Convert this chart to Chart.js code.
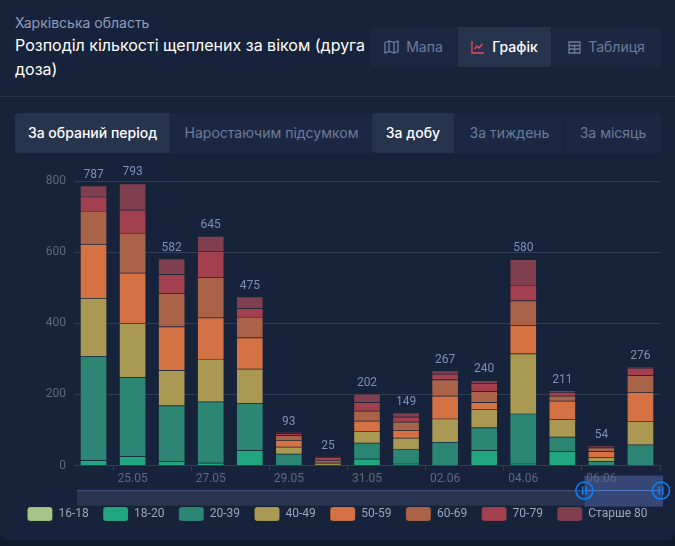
<!DOCTYPE html>
<html lang="uk">
<head>
<meta charset="utf-8">
<title>Розподіл кількості щеплених за віком</title>
<script src="https://cdn.jsdelivr.net/npm/chart.js@4"></script>
<style>
    html, body { margin: 0; padding: 0; background: #101a2d; }
    body { width: 675px; height: 546px; overflow: hidden; position: relative; font-family: Inter, sans-serif; }
    #card { position: absolute; left: 0; top: 0; width: 675px; height: 540px; background: #17233a; border-radius: 0 0 8px 8px; }
    #region { position: absolute; left: 15px; top: 14px; font-size: 14px; line-height: 18px; color: #8f9db8; }
    #title { position: absolute; left: 15px; top: 33px; width: 354px; font-size: 16px; line-height: 24px; font-weight: 400; color: #fff; }
    #divider { position: absolute; left: 0; top: 96px; width: 675px; height: 1px; background: #25314a; }
    .group { position: absolute; display: flex; height: 40px; }
    .btn { box-sizing: border-box; height: 40px; line-height: 40px; text-align: center; font-size: 14px; color: #6c7c9b; background: #1c2841; border-right: 1px solid #17233a; white-space: nowrap; }
    .btn:first-child { border-radius: 4px 0 0 4px; }
    .btn:last-child { border-radius: 0 4px 4px 0; border-right: 0; }
    .btn.on { background: #27344e; color: #fff; font-weight: 500; }
    .btn svg { vertical-align: -2px; margin-right: 7px; }
    #chartBox { position: absolute; left: 0; top: 160px; width: 675px; height: 371px; }
</style>
</head>
<body>
<div id="card"></div>
<div id="region">Харківська область</div>
<div id="title">Розподіл кількості щеплених за віком (друга доза)</div>
<div class="group" style="left:370px;top:27px">
    <div class="btn" style="width:88px"><svg width="15" height="14" viewBox="0 0 15 14" fill="none" stroke="#6c7c9b" stroke-width="1.3"><path d="M1 2.5l4-1.5 5 1.5 4-1.5v10.500l-4 1.500-5-1.500-4 1.500zM5 1v10.500M10 2.500v10.500"/></svg>Мапа</div>
    <div class="btn on" style="width:94px"><svg width="14" height="14" viewBox="0 0 14 14" fill="none" stroke="#f0485a" stroke-width="1.300"><path d="M1 1v12h12M3.500 9l2.500-3 2 2 3.500-4"/></svg>Графік</div>
    <div class="btn" style="width:109px"><svg width="13" height="13" viewBox="0 0 13 13" fill="none" stroke="#6c7c9b" stroke-width="1.300"><path d="M1 1h11v11h-11zM1 4.500h11M1 8h11M6.500 4.500v7.500"/></svg>Таблиця</div>
</div>
<div id="divider"></div>
<div class="group" style="left:15px;top:113px">
    <div class="btn on" style="width:156px">За обраний період</div>
    <div class="btn" style="width:201px">Наростаючим підсумком</div>
</div>
<div class="group" style="left:372px;top:113px">
    <div class="btn on" style="width:83px">За добу</div>
    <div class="btn" style="width:110px">За тиждень</div>
    <div class="btn" style="width:96px">За місяць</div>
</div>
<div id="chartBox"><canvas id="myChart"></canvas></div>

<script>
// Data
const dates = ["24.05", "25.05", "26.05", "27.05", "28.05", "29.05", "30.05", "31.05", "01.06", "02.06", "03.06", "04.06", "05.06", "06.06", "07.06"];
const totals = [787, 793, 582, 645, 475, 93, 25, 202, 149, 267, 240, 580, 211, 54, 276];
const age16to18 = [0, 0, 0, 0, 0, 0, 0, 0, 0, 0, 0, 0, 0, 0, 0];
const age18to20 = [15, 26, 12, 8, 43, 2, 0, 19, 5, 1, 43, 5, 40, 0, 1];
const age20to39 = [293, 222, 157, 172, 133, 31, 2, 45, 42, 65, 64, 141, 41, 12, 58];
const age40to49 = [163, 152, 99, 120, 96, 20, 4, 32, 31, 66, 51, 169, 50, 12, 66];
const age50to59 = [152, 142, 123, 116, 88, 19, 4, 30, 22, 64, 20, 80, 51, 16, 82];
const age60to69 = [93, 112, 94, 114, 58, 13, 5, 28, 23, 46, 31, 69, 14, 11, 47];
const age70to79 = [40, 65, 53, 73, 24, 6, 8, 24, 14, 16, 23, 44, 11, 2, 21];
const ageOver80 = [31, 74, 44, 42, 33, 2, 2, 24, 12, 9, 8, 72, 4, 1, 1];

const yTicks = [0, 200, 400, 600, 800];

const ageLabels = ["16-18", "18-20", "20-39", "40-49", "50-59", "60-69", "70-79", "Старше 80"];
const ageValues = [age16to18, age18to20, age20to39, age40to49, age50to59, age60to69, age70to79, ageOver80];
const ageColors = ["#a3c585", "#22a67f", "#2d8673", "#a99953", "#d47244", "#a96348", "#a2404f", "#803f4f"];

const gridColor = "#323e58";

// Totals above every stack
const totalsPlugin = {
    id: "totals",
    afterDatasetsDraw(chart) {
        const ctx = chart.ctx;
        const yScale = chart.scales.y;
        const xScale = chart.scales.x;
        ctx.save();
        ctx.font = "12px Roboto";
        ctx.fillStyle = "#7d90b5";
        ctx.textAlign = "center";
        ctx.textBaseline = "bottom";
        totals.forEach((total, i) => {
            ctx.fillText(total, xScale.getPixelForValue(i), yScale.getPixelForValue(total) - 5);
        });
        ctx.restore();
    }
};

// Range slider under the axis: the last two days are selected
const sliderPlugin = {
    id: "slider",
    beforeDraw(chart) {
        const ctx = chart.ctx;
        const area = chart.chartArea;
        const xScale = chart.scales.x;
        const left = area.left + 3;
        const right = area.right + 3;
        const from = xScale.getPixelForValue(13) - 17;
        const lineY = area.bottom + 25;
        ctx.save();
        ctx.fillStyle = "#2a3550";
        ctx.fillRect(left, lineY, from - left, 15);
        ctx.fillStyle = "#364775";
        ctx.fillRect(from, lineY - 15, right - from, 31);
        ctx.fillStyle = "#46557a";
        ctx.fillRect(left, lineY - 0.5, from - left, 1);
        ctx.fillStyle = "#5a78c8";
        ctx.fillRect(from, lineY - 0.5, right - 2 - from, 1);
        ctx.restore();
    },
    afterDraw(chart) {
        const ctx = chart.ctx;
        const area = chart.chartArea;
        const xScale = chart.scales.x;
        const lineY = area.bottom + 25;
        [xScale.getPixelForValue(13) - 17, area.right + 1].forEach(x => {
            ctx.save();
            ctx.strokeStyle = "#0a84ff";
            ctx.lineWidth = 1.5;
            ctx.beginPath();
            ctx.arc(x, lineY, 8.500, 0, Math.PI * 2);
            ctx.stroke();
            ctx.fillStyle = "#0a84ff";
            ctx.fillRect(x - 2.500, lineY - 4, 1.500, 8);
            ctx.fillRect(x + 1, lineY - 4, 1.500, 8);
            ctx.restore();
        });
    }
};

const ctx = document.getElementById("myChart");
const datasets = ageLabels.map((label, i) => ({
    label: label,
    data: ageValues[i],
    backgroundColor: ageColors[i],
    borderColor: "rgba(23, 35, 58, 0.1)",
    borderWidth: 1,
    barThickness: 27,
}));

const myChart = new Chart(ctx, {
    type: "bar",
    data: { labels: dates, datasets },
    options: {
        responsive: true,
        maintainAspectRatio: false,
        animation: false,
        layout: { padding: { top: 21, right: 0, bottom: 0, left: 0 } },
        scales: {
            x: {
                stacked: true,
                border: { color: gridColor },
                grid: {
                    drawOnChartArea: false,
                    tickLength: 5,
                    tickColor: (c) => (c.index === undefined || c.index % 2 === 1) ? gridColor : "transparent",
                },
                ticks: {
                    autoSkip: false,
                    maxRotation: 0,
                    padding: 1,
                    color: "#5c6a85",
                    font: { family: "Roboto", size: 12 },
                    callback(value, index) {
                        return index % 2 === 1 ? dates[index] : "";
                    },
                },
                afterFit(scale) { scale.height = 27; },
            },
            y: {
                stacked: true,
                min: 0,
                max: 800,
                border: { display: false },
                grid: { color: gridColor, tickLength: 0 },
                afterBuildTicks(scale) { scale.ticks = yTicks.map(value => ({ value })); },
                ticks: {
                    padding: 8,
                    color: "#5c6a85",
                    font: { family: "Roboto", size: 12 },
                },
                afterFit(scale) { scale.width = 74; },
            },
            // empty axis, only keeps the 15px gap right of the plot so the legend can stay full width
            gap: {
                type: "linear",
                position: "right",
                border: { display: false },
                grid: { display: false },
                ticks: { display: false },
                afterFit(scale) { scale.width = 15; },
            },
        },
        plugins: {
            tooltip: { enabled: false },
            legend: {
                position: "bottom",
                labels: {
                    boxWidth: 25,
                    boxHeight: 14,
                    padding: 14.4,
                    useBorderRadius: true,
                    borderRadius: 3,
                    color: "#9aa6bb",
                    font: { family: "Roboto", size: 12 },
                },
            },
        },
    },
    plugins: [totalsPlugin, sliderPlugin],
});
</script>
</body>
</html>
